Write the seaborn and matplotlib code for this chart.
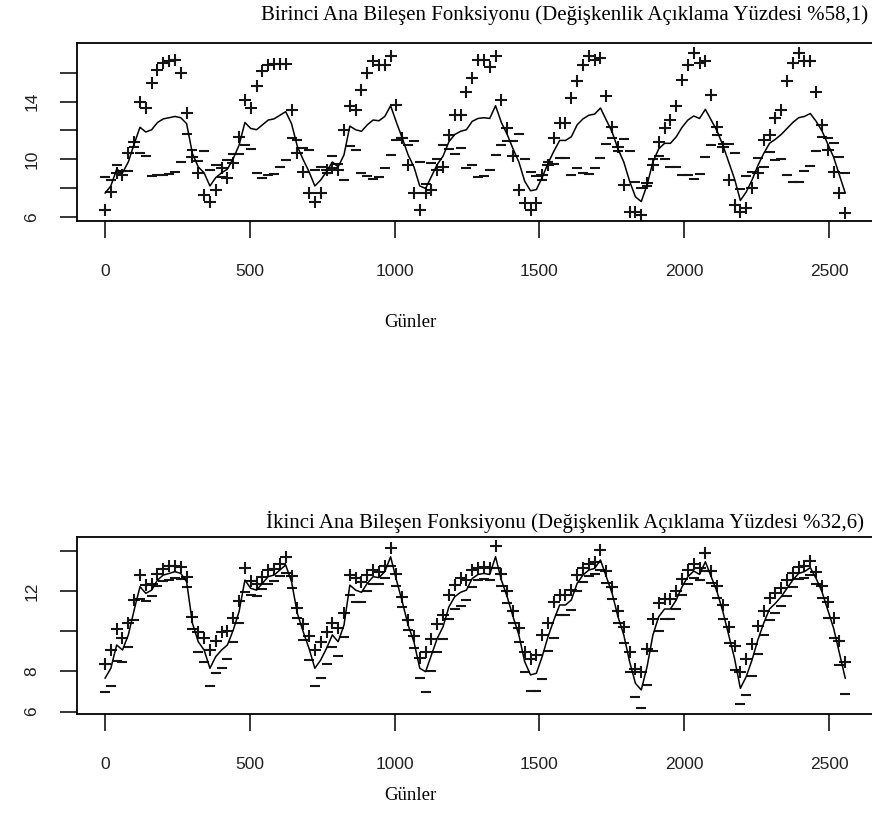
import numpy as np
import pandas as pd
import matplotlib
matplotlib.use("Agg")
import matplotlib.pyplot as plt
import seaborn as sns

# evaluation grid (days) for the functional mean and the harmonic perturbations
days = np.linspace(0, 2556, 128)

# mean function
mean_curve = [
    7.66, 8.16, 9.32, 9.07, 9.82, 11.06, 12.22, 11.89, 12.05, 12.55, 12.80, 12.88,
    12.97, 12.88, 12.47, 10.40, 9.48, 9.07, 8.16, 8.74, 9.07, 9.32, 10.06, 10.98,
    12.55, 12.14, 12.05, 12.39, 12.72, 12.80, 13.05, 13.30, 12.47, 10.89, 9.98, 9.15,
    8.16, 8.57, 9.15, 9.82, 9.48, 10.31, 12.30, 12.05,
    11.94, 12.39, 12.72, 12.67, 12.97, 13.71, 12.55, 11.47, 10.31, 9.48, 8.16, 7.99,
    8.82, 9.65, 10.23, 11.22, 11.72, 11.94, 12.05, 12.63, 12.83, 12.88, 12.83, 13.71,
    12.55, 11.72, 10.73, 9.82, 8.49, 7.83, 7.91, 8.74, 9.73, 10.56, 11.31, 11.31,
    11.56, 12.39, 12.80, 13.05, 13.13, 13.55, 12.72, 11.89, 10.73,
    9.82, 8.49, 7.41, 7.08, 8.24, 9.82, 10.73, 11.11, 11.11, 11.56, 12.22, 12.72,
    13.00, 12.83, 13.46, 12.72, 11.97, 10.98, 9.82, 8.65, 7.16, 7.74, 8.57, 9.57,
    10.40, 11.11, 11.39, 11.72, 12.14, 12.55, 12.88, 12.97, 13.17, 12.63, 11.97, 11.06,
    10.15, 8.90, 7.66,
]

# scaled first harmonic (added for "+", subtracted for "-")
pc1_shift = [
    -1.15, -0.39, -0.28, -0.14, 0.61, 0.17, 1.78, 1.65, 3.22, 3.64, 3.85, 3.89,
    3.87, 3.08, 0.72, -0.25, -0.44, -1.53, -1.08, -0.85, 0.32, -0.62, -0.33, 0.60,
    1.57, 1.40, 2.99, 3.69, 3.82, 3.81, 3.56, 3.31, 0.96, -0.46, -0.82, -1.49,
    -1.08, -0.91, 0.12, -0.43, -0.21, 1.73, 1.36, 1.38,
    2.87, 3.57, 4.05, 3.87, 3.57, 3.41, 1.22, 0.00, -0.69, -1.82, -1.65, -0.33,
    -0.93, -0.38, -0.73, 0.48, 1.36, 1.14, 2.64, 2.99, 4.06, 4.01, 3.59, 3.41,
    1.57, 0.44, -0.53, -1.93, -1.52, -1.32, -0.94, 0.19, -0.11, 0.91, 1.19, 1.19,
    2.67, 3.00, 3.74, 4.07, 3.76, 3.45, 1.63, 0.38, 0.16,
    -1.58, -2.10, -1.02, -0.92, 0.11, -0.20, 0.50, 1.05, 1.62, 2.10, 3.28, 3.82,
    4.35, 3.83, 3.31, 1.74, 0.30, -0.09, -1.24, -1.80, -0.77, -1.12, -0.57, -0.53,
    0.95, 0.59, 1.46, 1.71, 3.25, 4.11, 4.47, 3.80, 3.60, 2.06, 0.42, -0.40,
    -0.99, -1.24, -1.39,
]

# scaled second harmonic
pc2_shift = [
    0.7, 0.9, 0.8, 0.6, 0.6, 0.5,
    0.6, 0.4, 0.3, 0.3, 0.3, 0.35, 0.3,
    0.3, 0.25, 0.3, 0.5, 0.6,
    0.9, 0.8, 0.9, 0.7, 0.6, 0.55,
    0.6, 0.35, 0.3, 0.3, 0.35, 0.3, 0.3, 0.4,
    0.3, 0.25, 0.4, 0.6,
    0.9, 0.9, 0.8, 0.6, 0.7, 0.6, 0.5,
    0.6, 0.5, 0.4, 0.35, 0.3, 0.3, 0.45,
    0.3, 0.25, 0.25, 0.3, 0.5,
    1.0, 0.8, 0.7, 0.6, 0.6, 0.6, 0.7,
    0.5, 0.4, 0.3, 0.3, 0.3, 0.55,
    0.3, 0.3, 0.3, 0.35, 0.5,
    0.8, 0.9, 1.1, 0.7, 0.9, 0.5, 0.5, 0.5,
    0.4, 0.35, 0.3, 0.3, 0.5,
    0.3, 0.3, 0.3, 0.4, 0.5, 0.7,
    0.9, 0.9, 0.8, 0.7, 0.5, 0.5, 0.45,
    0.4, 0.35, 0.35, 0.3, 0.45,
    0.3, 0.3, 0.35, 0.4, 0.6,
    0.8, 0.9, 0.8, 0.7, 0.6, 0.55, 0.5, 0.45,
    0.4, 0.35, 0.3, 0.3, 0.35,
    0.3, 0.3, 0.4, 0.5, 0.6, 0.8,
]

x_ticks = [0, 500, 1000, 1500, 2000, 2500]
x_label = "Günler"

panels = [
    dict(title="Birinci Ana Bileşen Fonksiyonu (Değişkenlik Açıklama Yüzdesi %58,1)",
         shift=pc1_shift, rect=[0.0883, 0.7315, 0.9146, 0.2163], ylim=(5.74, 18.05),
         yticks=[6, 8, 10, 12, 14, 16], ylabels=["6", "", "10", "", "14", ""],
         title_y=1 - 15 / 823, xlabel_y=1 - 322 / 823),
    dict(title="İkinci Ana Bileşen Fonksiyonu (Değişkenlik Açıklama Yüzdesi %32,6)",
         shift=pc2_shift, rect=[0.0883, 0.1321, 0.9146, 0.2158], ylim=(5.87, 14.71),
         yticks=[6, 8, 10, 12, 14], ylabels=["6", "8", "", "12", ""],
         title_y=1 - 522 / 823, xlabel_y=1 - 795 / 823),
]

sns.set_theme(style="ticks")
plt.rcParams["font.family"] = ["Liberation Sans", "DejaVu Sans"]
serif = ["Liberation Serif", "DejaVu Serif"]

fig = plt.figure(figsize=(8.72, 8.23), dpi=100)
fig.patch.set_facecolor("white")

mean_arr = np.array(mean_curve)
for p in panels:
    shift = np.array(p["shift"])
    df = pd.DataFrame({"gun": days, "ortalama": mean_arr,
                       "arti": mean_arr + shift, "eksi": mean_arr - shift})
    ax = fig.add_axes(p["rect"])
    ax.set_facecolor("white")
    sns.lineplot(data=df, x="gun", y="ortalama", ax=ax, color="black", lw=1.1)
    sns.scatterplot(data=df, x="gun", y="arti", ax=ax, marker="+", color="#151515",
                    s=75, linewidth=1.5)
    sns.scatterplot(data=df, x="gun", y="eksi", ax=ax, marker="_", color="#151515",
                    s=60, linewidth=1.5)
    ax.set_xlim(-96.7, 2657)
    ax.set_ylim(*p["ylim"])
    ax.set_xticks(x_ticks)
    ax.set_xticklabels([str(t) for t in x_ticks])
    ax.set_yticks(p["yticks"])
    ax.set_yticklabels(p["ylabels"], rotation=90, va="center")
    ax.set_xlabel("")
    ax.set_ylabel("")
    for s in ax.spines.values():
        s.set_color("black")
        s.set_linewidth(1.3)
    ax.tick_params(axis="both", direction="out", length=12, width=1.1, color="black",
                   labelsize=12.5, labelcolor="#222222")
    ax.tick_params(axis="x", pad=19)
    ax.tick_params(axis="y", pad=15)
    fig.text(565 / 872, p["title_y"], p["title"], ha="center", va="center",
             family=serif, fontsize=15, color="black")
    fig.text(410 / 872, p["xlabel_y"], x_label, ha="center", va="center",
             family=serif, fontsize=13.5, color="black")

fig.savefig("out.png", dpi=100, facecolor="white")
